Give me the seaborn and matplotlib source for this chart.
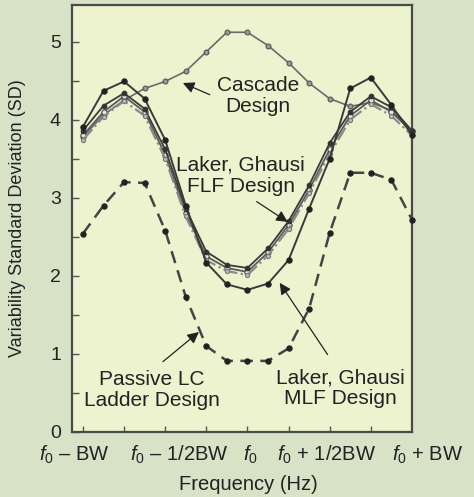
import numpy as np
import pandas as pd
import matplotlib
matplotlib.use("Agg")
import matplotlib.pyplot as plt
import matplotlib.transforms as mtransforms
import seaborn as sns

# frequency steps across the band, f0 - BW ... f0 + BW
steps = list(range(17))

cascade = [3.78, 4.06, 4.25, 4.40, 4.49, 4.62, 4.87, 5.12, 5.12, 4.95, 4.73, 4.47, 4.27, 4.17, 4.22, 4.12, 3.85]
flf_a = [3.80, 4.10, 4.30, 4.10, 3.55, 2.80, 2.25, 2.10, 2.05, 2.30, 2.65, 3.10, 3.62, 4.05, 4.25, 4.10, 3.85]
flf_b = [3.86, 4.18, 4.34, 4.14, 3.62, 2.86, 2.31, 2.14, 2.10, 2.35, 2.70, 3.16, 3.70, 4.10, 4.30, 4.16, 3.86]
flf_c = [3.74, 4.04, 4.24, 4.05, 3.50, 2.76, 2.20, 2.06, 2.01, 2.26, 2.60, 3.06, 3.56, 4.00, 4.20, 4.05, 3.80]
mlf = [3.91, 4.37, 4.49, 4.27, 3.74, 2.90, 2.17, 1.89, 1.82, 1.90, 2.20, 2.86, 3.50, 4.40, 4.54, 4.19, 3.80]
passive = [2.54, 2.90, 3.20, 3.19, 2.58, 1.73, 1.10, 0.91, 0.91, 0.91, 1.07, 1.58, 2.55, 3.32, 3.32, 3.23, 2.72]

xtick_text = [r"$f_0$ – BW", r"$f_0$ – 1/2BW", r"$f_0$", r"$f_0$ + 1/2BW", r"$f_0$ + BW"]
xtick_pos = [-0.4, 4.7, 8.15, 11.85, 16.75]

df = pd.DataFrame({
    "step": steps * 6,
    "sd": cascade + flf_a + flf_b + flf_c + mlf + passive,
    "design": (["Cascade"] * 17 + ["FLF a"] * 17 + ["FLF b"] * 17 + ["FLF c"] * 17
               + ["MLF"] * 17 + ["Passive"] * 17),
})

sns.set_theme(style="ticks")
plt.rcParams["font.family"] = ["Liberation Sans", "DejaVu Sans"]
plt.rcParams["mathtext.fontset"] = "custom"
plt.rcParams["mathtext.rm"] = "Liberation Sans"
plt.rcParams["mathtext.it"] = "Liberation Sans:italic"

fig = plt.figure(figsize=(4.74, 4.97), dpi=100)
fig.patch.set_facecolor("#d8e2c7")
ax = fig.add_axes([0.152, 0.131, 0.717, 0.859])
ax.set_facecolor("#eef3cf")

styles = {
    "Cascade": dict(color="#6a6a6a", lw=1.2, marker="o", ms=3.5, mfc="#9a9a9a", mec="#555555", ls="-"),
    "FLF a": dict(color="#5a5a5a", lw=1.3, marker="o", ms=3.8, mfc="#e8e8e0", mec="#444444", ls="-"),
    "FLF b": dict(color="#3a3a3a", lw=1.3, marker="o", ms=3.3, mfc="#333333", mec="#333333", ls="-"),
    "FLF c": dict(color="#8a8a8a", lw=1.6, marker="o", ms=3, mfc="#bbbbbb", mec="#777777", ls="-."),
    "MLF": dict(color="#3a3a3a", lw=1.4, marker="o", ms=3.8, mfc="#222222", mec="#222222", ls="-"),
    "Passive": dict(color="#444444", lw=1.8, marker="o", ms=3.8, mfc="#222222", mec="#222222", ls=(0, (5, 3))),
}
for name, st in styles.items():
    sub = df[df["design"] == name]
    sns.lineplot(data=sub, x="step", y="sd", ax=ax, color=st["color"], lw=st["lw"],
                 marker=st["marker"], markersize=st["ms"], markerfacecolor=st["mfc"],
                 markeredgecolor=st["mec"], markeredgewidth=0.8, linestyle=st["ls"],
                 legend=False, clip_on=False, zorder=3)

ax.set_xlim(-0.53, 16)
ax.set_ylim(0, 5.47)
ax.set_yticks([0, 1, 2, 3, 4, 5])
ax.set_yticks(np.arange(0.5, 5.5, 1.0), minor=True)
ax.set_xticks(range(0, 16, 2))
ax.set_xticklabels([])
ax.tick_params(axis="both", which="both", direction="in", color="#555555")
ax.tick_params(axis="y", which="major", length=5, width=1, labelsize=14, pad=8, labelcolor="#222222")
ax.tick_params(axis="y", which="minor", length=5, width=1)
ax.tick_params(axis="x", which="major", length=4, width=1)

trans = mtransforms.blended_transform_factory(ax.transData, ax.transAxes)
for pos, txt in zip(xtick_pos, xtick_text):
    ax.text(pos, -0.028, txt, transform=trans, ha="center", va="top", fontsize=14.5,
            color="#222222", clip_on=False)

ax.set_xlabel("Frequency (Hz)", fontsize=14.5, color="#222222")
ax.set_ylabel("Variability Standard Deviation (SD)", fontsize=13, color="#222222")
ax.xaxis.set_label_coords(0.52, -0.1)
ax.yaxis.set_label_coords(-0.135, 0.5)

for s in ax.spines.values():
    s.set_color("#4a4a4a")
    s.set_linewidth(1.6)

arrow = dict(arrowstyle="-|>", color="#222222", lw=0.9, mutation_scale=17, shrinkA=0, shrinkB=0)
ax.annotate("", xy=(4.86, 4.47), xytext=(6.17, 4.32), arrowprops=arrow)
ax.annotate("", xy=(9.96, 2.69), xytext=(8.45, 2.95), arrowprops=arrow)
ax.annotate("", xy=(5.64, 1.28), xytext=(3.89, 0.90), arrowprops=arrow)
ax.annotate("", xy=(9.57, 1.91), xytext=(11.9, 0.99), arrowprops=arrow)

lab = dict(ha="center", va="center", fontsize=15, color="#222222", linespacing=1.15)
ax.text(8.5, 4.3, "Cascade\nDesign", **lab)
ax.text(7.68, 3.28, "Laker, Ghausi\nFLF Design", **lab)
ax.text(3.35, 0.54, "Passive LC\nLadder Design", **lab)
ax.text(12.54, 0.56, "Laker, Ghausi\nMLF Design", **lab)

fig.savefig("out.png", dpi=100, facecolor=fig.get_facecolor())
